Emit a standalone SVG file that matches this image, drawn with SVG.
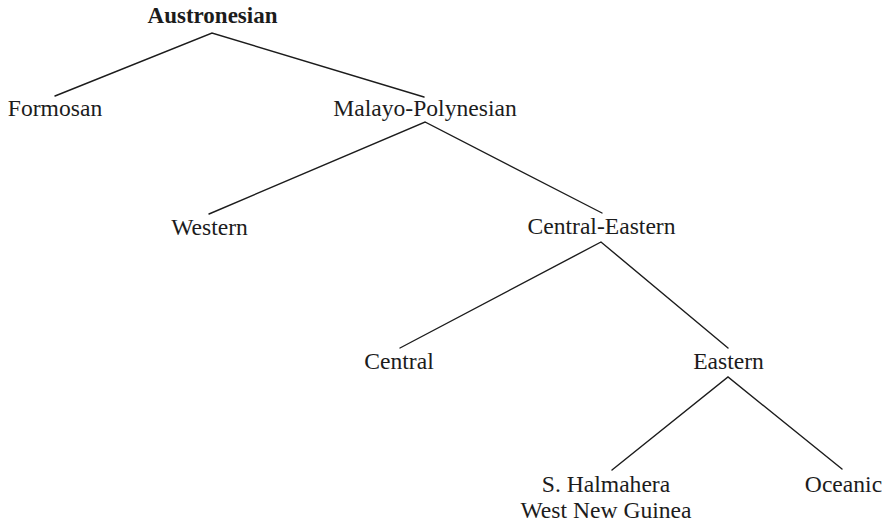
<svg xmlns="http://www.w3.org/2000/svg" width="887" height="524" viewBox="0 0 887 524">
  <style>
    text { font-family: "Liberation Serif", "Times New Roman", serif; font-size: 23.6px; fill: #1c1c1c; text-anchor: middle; }
    .root { font-weight: bold; font-size: 23px; }
    .edge { stroke: #1c1c1c; stroke-width: 1.4; fill: none; stroke-linecap: round; }
  </style>
  <rect width="887" height="524" fill="#ffffff"/>

  <!-- branches: each polyline joins a parent to its two children -->
  <g id="connectors">
    <polyline class="edge" points="55,96 212,33 424,97"/>
    <polyline class="edge" points="209,214 425,122 602,213"/>
    <polyline class="edge" points="400,348 601,242 728,348"/>
    <polyline class="edge" points="612,470 728,377 842,469"/>
  </g>

  <g id="austronesian"><text class="root" x="212.5" y="23">Austronesian</text></g>
  <g id="formosan"><text x="55" y="116">Formosan</text></g>
  <g id="malayo-polynesian"><text x="425" y="116">Malayo-Polynesian</text></g>
  <g id="western"><text x="209.5" y="235">Western</text></g>
  <g id="central-eastern"><text x="601.5" y="234">Central-Eastern</text></g>
  <g id="central"><text x="399" y="369">Central</text></g>
  <g id="eastern"><text x="728.5" y="369">Eastern</text></g>
  <g id="shwng">
    <text x="606" y="492">S. Halmahera</text>
    <text x="606" y="518">West New Guinea</text>
  </g>
  <g id="oceanic"><text x="843.5" y="492">Oceanic</text></g>
</svg>
